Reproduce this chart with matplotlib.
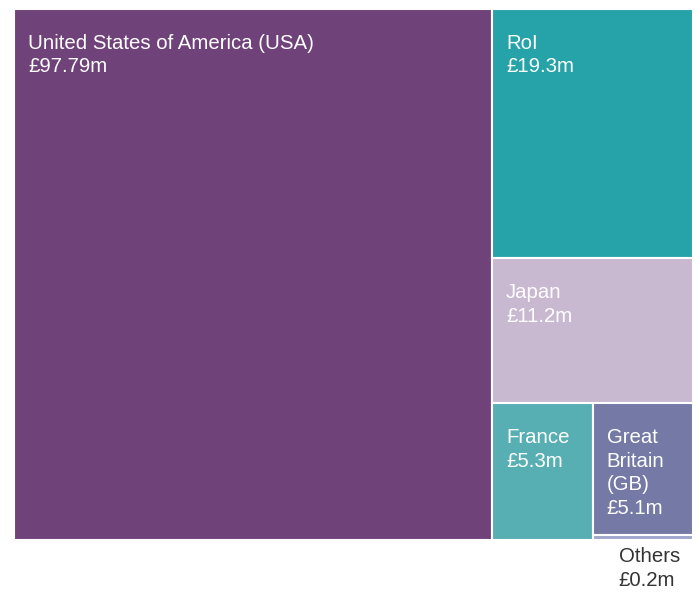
import matplotlib.pyplot as plt
from matplotlib.patches import Rectangle

# Export values by country (£m)
countries = ['United States of America (USA)', 'RoI', 'Japan', 'France',
             'Great\nBritain\n(GB)', 'Others']
values = [97.79, 19.3, 11.2, 5.3, 5.1, 0.2]
labels = ['£97.79m', '£19.3m', '£11.2m', '£5.3m', '£5.1m', '£0.2m']
colors = ['#6F427A', '#25A3A8', '#C8B8D0', '#57AFB4', '#7479A5', '#9EA8CC']

plt.rcParams['font.family'] = ['Liberation Sans', 'DejaVu Sans']


def layout(vals, x0, y0, w, h):
    """Simple nested slice layout: big one as a column, rest stacked, last few in a row."""
    total = sum(vals)
    rects = []
    # first item -> full-height column on the left
    w0 = w * vals[0] / total
    rects.append((x0, y0, w0, h))
    rest = vals[1:]
    rx, rw = x0 + w0, w - w0
    rtot = sum(rest)
    y = y0
    # next two stacked vertically in the right column
    for v in rest[:2]:
        hh = h * v / rtot
        rects.append((rx, y, rw, hh))
        y += hh
    # bottom block: France on the left, GB + Others stacked on the right
    bottom = rest[2:]
    bh = y0 + h - y
    btot = sum(bottom)
    fw = rw * bottom[0] / btot
    rects.append((rx, y, fw, bh))
    sub = bottom[1:]
    stot = sum(sub)
    yy = y
    for v in sub:
        hh = bh * v / stot
        rects.append((rx + fw, yy, rw - fw, hh))
        yy += hh
    return rects


fig = plt.figure(figsize=(6.99, 5.92), dpi=100)
ax = fig.add_axes([0, 0, 1, 1])
ax.set_xlim(0, 699)
ax.set_ylim(592, 0)
ax.axis('off')

rects = layout(values, 14, 9, 679, 531)

for i, (x, y, w, h) in enumerate(rects):
    ax.add_patch(Rectangle((x, y), w, h, facecolor=colors[i],
                           edgecolor='white', linewidth=1.5))
    text = f'{countries[i]}\n{labels[i]}'
    if h < 30:
        # too small, put label underneath
        ax.text(x + 26, y + h + 7, text, color='#333333', fontsize=14.7,
                va='top', ha='left', linespacing=1.3)
    else:
        ax.text(x + 14, y + 25, text, color='white', fontsize=14.7,
                va='top', ha='left', linespacing=1.3)

fig.savefig('out.png', dpi=100)
